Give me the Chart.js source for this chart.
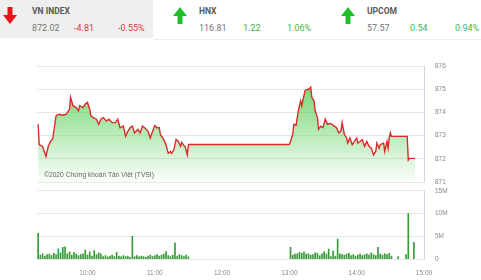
<!DOCTYPE html>
<html>
<head>
<meta charset="utf-8">
<script src="https://cdn.jsdelivr.net/npm/chart.js@4"></script>
<style>
    body { margin: 0; width: 481px; height: 280px; background: #fff; overflow: hidden; font-family: Roboto, 'Liberation Sans', sans-serif; position: relative; }
    .hdr { position: absolute; top: 0; height: 38px; }
    .box-grey { left: 0; width: 153px; background: #efefef; }
    .line { position: absolute; left: 153px; top: 39px; width: 328px; height: 1px; background: #eeeeee; }
    .t { position: absolute; font-size: 9px; white-space: nowrap; }
    .name { font-weight: bold; color: #585858; top: 6px; font-size: 8.5px; }
    .val { color: #777; top: 23px; }
    .dn { color: #e0383a; top: 23px; }
    .up { color: #3cb94a; top: 23px; }
    svg { position: absolute; }
    #c1 { position: absolute; left: 0; top: 46px; }
    #c2 { position: absolute; left: 0; top: 176px; }
    .copy { position: absolute; left: 44px; top: 171px; font-family: 'Liberation Sans', Arial, sans-serif; font-size: 6.7px; color: #666; }
</style>
</head>
<body>
<div class="hdr box-grey"></div>
<div class="line"></div>

<svg style="left:3px;top:7px" width="14" height="17" viewBox="0 0 14 17">
    <path d="M4.5 0 H9.5 V8 H14 L7 17 L0 8 H4.5 Z" fill="#e8141b"/>
</svg>
<div class="t name" style="left:32px">VN INDEX</div>
<div class="t val" style="left:32px">872.02</div>
<div class="t dn" style="left:74px">-4.81</div>
<div class="t dn" style="left:118px">-0.55%</div>

<svg style="left:173px;top:7px" width="14" height="17" viewBox="0 0 14 17">
    <path d="M4.5 17 H9.5 V9 H14 L7 0 L0 9 H4.5 Z" fill="#1fbf2a"/>
</svg>
<div class="t name" style="left:199px">HNX</div>
<div class="t val" style="left:199px">116.81</div>
<div class="t up" style="left:243px">1.22</div>
<div class="t up" style="left:287px">1.06%</div>

<svg style="left:341px;top:7px" width="14" height="17" viewBox="0 0 14 17">
    <path d="M4.5 17 H9.5 V9 H14 L7 0 L0 9 H4.5 Z" fill="#1fbf2a"/>
</svg>
<div class="t name" style="left:367px">UPCOM</div>
<div class="t val" style="left:367px">57.57</div>
<div class="t up" style="left:410px">0.54</div>
<div class="t up" style="left:455px">0.94%</div>

<canvas id="c1" width="481" height="151"></canvas>
<canvas id="c2" width="481" height="103"></canvas>
<div class="copy">©2020 Chứng khoán Tân Việt (TVSI)</div>

<script>
// gia VN-Index theo phut
const priceTimes = ['09:16','09:17','09:20','09:22','09:23','09:25','09:27','09:29','09:30','09:32',
    '09:33','09:35','09:38','09:41','09:44','09:45','09:47','09:50','09:52','09:53',
    '09:56','09:58','10:00','10:02','10:03','10:05','10:08','10:10','10:12','10:14',
    '10:17','10:19','10:22','10:25','10:27','10:29','10:32','10:34','10:36','10:38',
    '10:40','10:42','10:45','10:47','10:49','10:51','10:54','10:56','10:57','11:00',
    '11:02','11:04','11:05','11:08','11:10','11:12','11:14','11:15','11:17','11:19',
    '11:21','11:23','11:24','11:26','11:27','11:29','11:30','13:00','13:03','13:04',
    '13:06','13:07','13:08','13:10','13:11','13:13','13:14','13:16','13:17','13:19',
    '13:20','13:22','13:23','13:25','13:26','13:28','13:30','13:32','13:34','13:36',
    '13:38','13:40','13:42','13:44','13:46','13:47','13:49','13:51','13:52','13:54',
    '13:56','13:58','14:00','14:01','14:03','14:05','14:07','14:09','14:11','14:13',
    '14:15','14:17','14:18','14:20','14:21','14:24','14:25','14:27','14:28','14:29',
    '14:30','14:31','14:45','14:46','14:47','14:52'];
const priceValues = [873.49, 872.62, 872.53, 872.24, 872.10, 872.53, 872.75, 872.86, 873.20, 873.85,
    873.88, 873.92, 873.88, 873.92, 874.14, 874.65, 874.29, 874.21, 874.07, 874.29,
    874.21, 874.36, 874.43, 874.14, 873.85, 873.78, 873.71, 873.49, 873.71, 873.78,
    873.63, 873.71, 873.56, 873.56, 873.71, 873.34, 873.41, 872.97, 873.19, 873.34,
    873.41, 873.12, 873.27, 873.12, 873.41, 873.34, 873.19, 872.90, 873.05, 873.44,
    873.34, 873.34, 873.05, 872.83, 872.61, 872.24, 872.32, 872.24, 872.39, 872.83,
    872.75, 872.54, 872.71, 872.57, 872.54, 872.17, 872.62, 872.62, 873.05, 873.49,
    873.45, 873.78, 874.07, 874.50, 874.29, 874.73, 874.95, 875.00, 874.98, 875.09,
    874.65, 874.50, 874.07, 873.78, 873.27, 873.41, 873.35, 873.71, 873.49, 873.52,
    873.49, 873.41, 873.34, 873.12, 873.20, 873.56, 873.05, 872.90, 872.68, 872.90,
    872.61, 872.75, 872.90, 872.68, 872.75, 872.83, 872.54, 872.75, 872.54, 872.46,
    872.17, 872.32, 872.68, 872.46, 872.61, 872.68, 872.32, 872.75, 872.46, 872.90,
    873.12, 872.97, 872.97, 871.95, 872.02, 872.02];

// khoi luong (trieu co phieu)
const volTimes = ['09:16','09:18','09:20','09:22','09:24','09:26','09:28','09:30','09:32','09:34',
    '09:36','09:38','09:40','09:42','09:44','09:46','09:48','09:50','09:52','09:54',
    '09:56','09:58','10:00','10:02','10:04','10:06','10:08','10:10','10:12','10:14',
    '10:16','10:18','10:20','10:22','10:24','10:26','10:28','10:30','10:32','10:34',
    '10:36','10:38','10:40','10:42','10:44','10:46','10:48','10:50','10:52','10:54',
    '10:56','10:58','11:00','11:02','11:04','11:06','11:08','11:10','11:12','11:14',
    '11:16','11:18','11:20','11:22','11:24','11:26','11:28','11:30',
    '13:01','13:03','13:05','13:07','13:09','13:11','13:13','13:15','13:17','13:19',
    '13:21','13:23','13:25','13:27','13:29','13:31','13:33','13:35','13:37','13:39',
    '13:41','13:43','13:45','13:47','13:49','13:51','13:53','13:55','13:57','13:59',
    '14:01','14:03','14:05','14:07','14:09','14:11','14:13','14:15','14:17','14:19',
    '14:21','14:23','14:25','14:27','14:29','14:31','14:37','14:44','14:46','14:51'];
const volValues = [5.7, 0.9, 1.2, 0.7, 1.0, 1.1, 0.8, 1.3, 1.0, 2.3,
    1.4, 2.6, 2.7, 1.2, 1.6, 0.9, 1.5, 1.1, 0.8, 1.0,
    1.2, 2.0, 0.9, 1.6, 0.7, 1.9, 1.0, 1.4, 1.2, 0.6,
    0.8, 0.5, 0.7, 0.9, 0.6, 1.5, 0.7, 0.5, 0.8, 0.6,
    0.7, 0.4, 5.0, 0.6, 0.8, 0.5, 0.7, 0.6, 0.4, 0.7,
    0.9, 0.6, 0.8, 1.0, 0.7, 0.9, 1.1, 1.7, 0.8, 0.6,
    0.9, 3.6, 0.7, 1.0, 0.8, 0.6, 0.9, 0.5,
    2.6, 0.9, 1.1, 1.2, 1.5, 1.3, 1.6, 1.1, 1.2, 0.9,
    1.0, 1.4, 1.3, 0.8, 1.2, 1.6, 1.1, 2.2, 0.6, 1.8,
    0.7, 4.4, 1.2, 1.0, 0.9, 1.1, 1.3, 0.8, 1.0, 0.7,
    0.9, 1.1, 0.8, 1.0, 1.2, 0.9, 1.4, 1.0, 0.8, 2.6,
    1.1, 0.9, 1.2, 1.0, 1.3, 0.7, 0.6, 1.0, 10.0, 3.7];

const timeTicks = ['10:00', '11:00', '12:00', '13:00', '14:00', '15:00'];
const priceTicks = [871, 872, 873, 874, 875, 876];
const volTicks = [0, 5, 10, 15];

const toMin = s => { const p = s.split(':'); return (+p[0]) * 60 + (+p[1]); };
const fmtTime = m => Math.floor(m / 60) + ':' + String(m % 60).padStart(2, '0');

const xMin = toMin('09:15'), xMax = toMin('15:00');
const axisRight = 424;
const tickFont = { family: "'Liberation Sans', Arial, sans-serif", size: 6.5 };
const gridColor = '#e7e7e7';
const frameColor = '#cfd8e2';

document.addEventListener('DOMContentLoaded', () => {
    const priceData = priceTimes.map((t, i) => ({ x: toMin(t), y: priceValues[i] }));
    const volData = volTimes.map((t, i) => ({ x: toMin(t), y: volValues[i] }));

    const fixRight = s => { s.width = 481 - axisRight; };

    new Chart(document.getElementById('c1'), {
        type: 'line',
        data: {
            datasets: [{
                data: priceData,
                borderColor: '#dc2b2b',
                borderWidth: 1.4,
                pointRadius: 0,
                tension: 0,
                fill: 'start',
                backgroundColor: (ctx) => {
                    const area = ctx.chart.chartArea;
                    if (!area) return 'rgba(0,0,0,0)';
                    const g = ctx.chart.ctx.createLinearGradient(0, area.top, 0, area.bottom);
                    g.addColorStop(0, 'rgba(80,205,80,0.95)');
                    g.addColorStop(1, 'rgba(80,205,80,0.02)');
                    return g;
                }
            }]
        },
        options: {
            responsive: false,
            animation: false,
            layout: { padding: { left: 37, top: 20, bottom: 10, right: 0 } },
            plugins: { legend: { display: false }, tooltip: { enabled: false } },
            scales: {
                x: { type: 'linear', min: xMin, max: xMax, display: false },
                y: {
                    position: 'right',
                    min: priceTicks[0],
                    max: priceTicks[priceTicks.length - 1],
                    afterFit: fixRight,
                    afterBuildTicks: s => { s.ticks = priceTicks.map(v => ({ value: v })); },
                    grid: { color: gridColor, drawTicks: false },
                    border: { display: true, color: frameColor },
                    ticks: { color: '#888', font: tickFont, padding: 11 }
                }
            }
        }
    });

    new Chart(document.getElementById('c2'), {
        type: 'bar',
        data: {
            datasets: [{
                data: volData,
                backgroundColor: '#3a9a3a',
                barThickness: 1
            }]
        },
        options: {
            responsive: false,
            animation: false,
            layout: { padding: { left: 37, top: 1, bottom: 0, right: 0 } },
            plugins: { legend: { display: false }, tooltip: { enabled: false } },
            scales: {
                x: {
                    type: 'linear',
                    min: xMin,
                    max: xMax,
                    offset: false,
                    afterBuildTicks: s => { s.ticks = timeTicks.map(t => ({ value: toMin(t) })); },
                    grid: { display: false },
                    border: { display: false },
                    ticks: { color: '#888', font: tickFont, padding: 2, maxRotation: 0, callback: v => fmtTime(v) }
                },
                y: {
                    position: 'right',
                    min: 0,
                    max: 15,
                    afterFit: fixRight,
                    afterBuildTicks: s => { s.ticks = volTicks.map(v => ({ value: v })); },
                    grid: { color: gridColor, drawTicks: false },
                    border: { display: true, color: frameColor },
                    ticks: { color: '#888', font: tickFont, padding: 11, callback: v => v === 0 ? '0' : v + 'M' }
                }
            }
        }
    });
});
</script>
</body>
</html>
